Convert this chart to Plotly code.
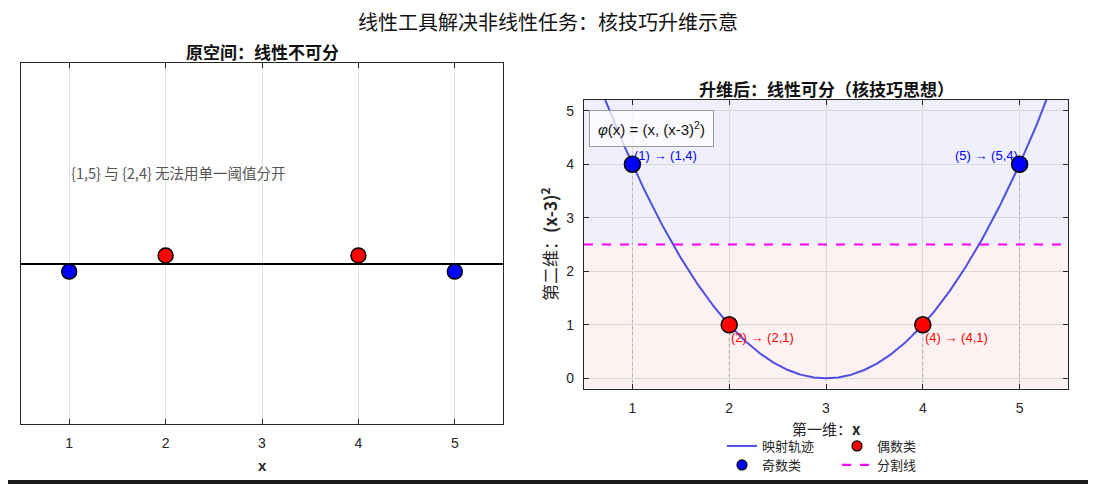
import numpy as np
import plotly.graph_objects as go

# ---------------- data ----------------
odd_x = [1, 5]
even_x = [2, 4]
odd_offset = [-0.05, -0.05]
even_offset = [0.05, 0.05]
odd_phi = [4, 4]
even_phi = [1, 1]
threshold = 2.5
tick_vals = [1, 2, 3, 4, 5]
curve_x = np.linspace(0.5, 5.5, 401)
curve_y = (curve_x - 3) ** 2

TXT = "Liberation Sans, Arial, Noto Sans CJK SC"
CJK = "Noto Sans CJK SC, Liberation Sans"
W, H = 1088, 476
OFF = 8  # page margin of the browser body


def px(x):
    return (x - OFF) / W


def py(y):
    return 1 - (y - OFF) / H


fig = go.Figure()

# ---- left panel ----
fig.add_trace(go.Scatter(x=odd_x, y=odd_offset, mode="markers", xaxis="x", yaxis="y",
                         marker=dict(size=15, color="#0000ff", line=dict(color="black", width=1.5)),
                         showlegend=False, hoverinfo="skip"))
fig.add_trace(go.Scatter(x=even_x, y=even_offset, mode="markers", xaxis="x", yaxis="y",
                         marker=dict(size=15, color="#ff0000", line=dict(color="black", width=1.5)),
                         showlegend=False, hoverinfo="skip"))

# ---- right panel ----
for xv, yv in zip(odd_x + even_x, odd_phi + even_phi):
    fig.add_trace(go.Scatter(x=[xv, xv], y=[-0.2, yv], mode="lines", xaxis="x2", yaxis="y2",
                             line=dict(color="rgba(140,140,140,0.6)", width=1, dash="dot"),
                             showlegend=False, hoverinfo="skip"))

fig.add_trace(go.Scatter(x=curve_x, y=curve_y, mode="lines", xaxis="x2", yaxis="y2",
                         line=dict(color="rgba(60,60,225,0.9)", width=2),
                         name="映射轨迹", legend="legend"))
fig.add_trace(go.Scatter(x=even_x, y=even_phi, mode="markers", xaxis="x2", yaxis="y2",
                         marker=dict(size=16, color="#ff0000", line=dict(color="black", width=1.5)),
                         showlegend=False, hoverinfo="skip"))
fig.add_trace(go.Scatter(x=[None], y=[None], mode="markers", xaxis="x2", yaxis="y2",
                         marker=dict(size=10, color="#ff0000", line=dict(color="black", width=1.2)),
                         name="偶数类", legend="legend"))
fig.add_trace(go.Scatter(x=odd_x, y=odd_phi, mode="markers", xaxis="x2", yaxis="y2",
                         marker=dict(size=16, color="#0000ff", line=dict(color="black", width=1.5)),
                         showlegend=False, hoverinfo="skip"))
fig.add_trace(go.Scatter(x=[None], y=[None], mode="markers", xaxis="x2", yaxis="y2",
                         marker=dict(size=10, color="#0000ff", line=dict(color="black", width=1.2)),
                         name="奇数类", legend="legend2"))
fig.add_trace(go.Scatter(x=[0.5, 5.5], y=[threshold, threshold], mode="lines", xaxis="x2", yaxis="y2",
                         line=dict(color="#ff00ff", width=2.2, dash="dash"),
                         name="分割线", legend="legend2"))

axis_common = dict(showline=True, linecolor="#262626", linewidth=1.3, mirror="ticks",
                   ticks="inside", ticklen=5, tickcolor="#262626", ticklabelstandoff=6,
                   tickfont=dict(family=TXT, size=14, color="#262626"))

legend_common = dict(orientation="h", xanchor="left", yanchor="middle",
                     entrywidth=70, entrywidthmode="pixels", bgcolor="rgba(0,0,0,0)",
                     font=dict(family=CJK, size=13, color="#262626"), itemclick=False)

fig.update_layout(
    width=W, height=H,
    margin=dict(l=0, r=0, t=0, b=0),
    paper_bgcolor="white", plot_bgcolor="white",
    showlegend=True,
    xaxis=dict(domain=[px(21), px(503)], range=[0.5, 5.5], anchor="y",
               tickvals=tick_vals, showgrid=True, gridcolor="#e0e0e0", zeroline=False,
               **axis_common),
    yaxis=dict(domain=[py(424), py(63)], range=[-1, 1.25], anchor="x",
               showticklabels=False, ticks="", showgrid=False,
               zeroline=True, zerolinecolor="black", zerolinewidth=1.5,
               showline=True, linecolor="#262626", linewidth=1.3, mirror=True),
    xaxis2=dict(domain=[px(584), px(1068)], range=[0.5, 5.5], anchor="y2",
                tickvals=tick_vals, showgrid=True, gridcolor="#d9d9d9", zeroline=False,
                **axis_common),
    yaxis2=dict(domain=[py(389), py(100)], range=[-0.2, 5.2], anchor="x2",
                tickvals=[0, 1, 2, 3, 4, 5], showgrid=True, gridcolor="#d9d9d9", zeroline=False,
                **axis_common),
    legend=dict(x=px(722), y=py(446), **legend_common),
    legend2=dict(x=px(722), y=py(465), **legend_common),
)

fig.add_shape(type="rect", xref="x2 domain", yref="y2", x0=0, x1=1, y0=threshold, y1=5.2,
              fillcolor="rgba(60,60,230,0.08)", line_width=0, layer="below")
fig.add_shape(type="rect", xref="x2 domain", yref="y2", x0=0, x1=1, y0=-0.2, y1=threshold,
              fillcolor="rgba(230,80,80,0.08)", line_width=0, layer="below")
fig.add_shape(type="rect", xref="paper", yref="paper", x0=0, x1=1, y0=0, y1=py(480),
              fillcolor="#1a1a1a", line_width=0)


def note(text, x, y, size, family=CJK, color="#111", **kw):
    d = dict(text=text, x=x, y=y, xref="paper", yref="paper", xanchor="center", yanchor="middle",
             showarrow=False, font=dict(family=family, size=size, color=color))
    d.update(kw)
    return d


ann = [
    note("线性工具解决非线性任务：核技巧升维示意", px(548), py(21), 20),
    note("<b>原空间：线性不可分</b>", px(262), py(51), 17),
    note("<b>升维后：线性可分（核技巧思想）</b>", px(826), py(88), 17),
    note("<b>x</b>", px(262), py(465), 15, family=TXT, color="#262626"),
    note("第一维：<b>x</b>", px(826), py(428), 15, color="#262626"),
    note("第二维：<b>(x-3)<sup>2</sup></b>", px(549), py(245), 17, color="#262626", textangle=-90),
    dict(text="{1,5} 与 {2,4} 无法用单一阈值分开", x=1, y=0.57, xref="x", yref="y",
         xanchor="left", yanchor="middle", showarrow=False,
         font=dict(family=CJK, size=14.5, color="#555555")),
    dict(text="<i>φ</i>(x) = (x, (x-3)<sup>2</sup>)", x=(651 - 584) / 484, y=(389 - 128) / 289,
         xref="x2 domain", yref="y2 domain", xanchor="center", yanchor="middle", showarrow=False,
         bgcolor="rgba(255,255,255,0.75)", bordercolor="#999999", borderwidth=1, borderpad=8,
         font=dict(family=TXT, size=15, color="#111")),
    dict(text="(1) → (1,4)", x=odd_x[0], y=odd_phi[0] + 0.17, xref="x2", yref="y2",
         xanchor="left", yanchor="middle", showarrow=False,
         font=dict(family=TXT, size=13, color="#0000ff")),
    dict(text="(5) → (5,4)", x=odd_x[1], y=odd_phi[1] + 0.17, xref="x2", yref="y2",
         xanchor="right", yanchor="middle", showarrow=False,
         font=dict(family=TXT, size=13, color="#0000ff")),
    dict(text="(2) → (2,1)", x=even_x[0], y=even_phi[0] - 0.24, xref="x2", yref="y2",
         xanchor="left", yanchor="middle", showarrow=False,
         font=dict(family=TXT, size=13, color="#ff0000")),
    dict(text="(4) → (4,1)", x=even_x[1], y=even_phi[1] - 0.24, xref="x2", yref="y2",
         xanchor="left", yanchor="middle", showarrow=False,
         font=dict(family=TXT, size=13, color="#ff0000")),
]
fig.update_layout(annotations=ann)

fig.write_html("out.html")
